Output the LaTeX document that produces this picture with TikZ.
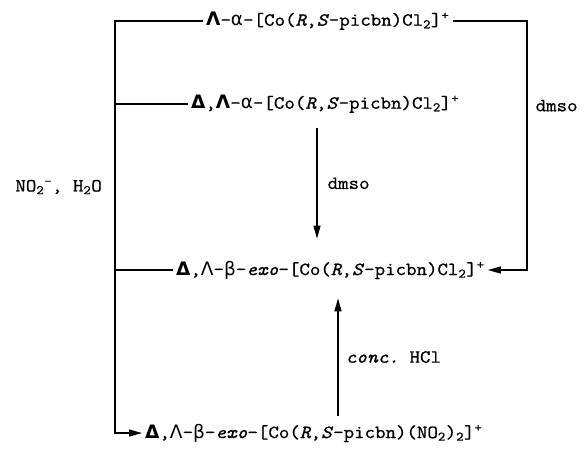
\documentclass[tikz,border=0pt]{standalone}
\usepackage{fontspec}
\setmonofont{Latin Modern Mono}[FakeStretch=1.1, FakeBold=0.9]
\newfontfamily\grk{DejaVu Sans}
\usepackage{tikz}
\usetikzlibrary{arrows.meta,positioning,calc}
\newcommand{\copicbn}{[Co(\textit{R},\textit{S}-picbn)}
\newcommand{\bLam}{{\grk\bfseries Λ}}
\newcommand{\bDel}{{\grk\bfseries Δ}}
\newcommand{\rLam}{{\grk Λ}}
\newcommand{\alp}{{\grk α}}
\newcommand{\bet}{{\grk β}}

\begin{document}
\begin{tikzpicture}[
  x=1pt,
  y=-1pt,
  cpd/.style={
    anchor=west,
    inner sep=3pt,
    font=\fontsize{18.5}{21}\selectfont\ttfamily
  },
  cond/.style={
    inner sep=2pt,
    font=\fontsize{18.5}{21}\selectfont\ttfamily
  },
  link/.style={line width=1.3pt},
  arrow/.style={-{Triangle[length=13pt,width=7pt]}, line width=1.3pt}
]
\useasboundingbox (0,0) rectangle (584,448);

% compounds
\node[cpd] (lamA) at (203,21) {\bLam-\alp-\copicbn Cl\textsubscript{2}]\textsuperscript{+}};
\node[cpd] (dlA) at (188,104) {\bDel,\bLam-\alp-\copicbn Cl\textsubscript{2}]\textsuperscript{+}};
\node[cpd] (dlB) at (173,270) {\bDel,\rLam-\bet-\textit{exo}-\copicbn Cl\textsubscript{2}]\textsuperscript{+}};
\node[cpd] (nitro) at (142,433) {\bDel,\rLam-\bet-\textit{exo}-\copicbn(NO\textsubscript{2})\textsubscript{2}]\textsuperscript{+}};

% reagent on the left
\node[cond, anchor=east] (reag) at (104,187) {NO\textsubscript{2}\textsuperscript{-}, H\textsubscript{2}O};

% corners and arrow columns
\coordinate (tl) at (115,21);
\coordinate (tr) at (527,21);
\coordinate (dn) at (317,0);
\coordinate (up) at (338,0);

\draw[arrow] (lamA.west) -- (tl) |- (nitro.west);
\draw[link] (dlA.west) -- (dlA.west -| tl);
\draw[link] (dlB.west) -- (dlB.west -| tl);
\draw[arrow] (lamA.east) -- (tr) |- node[cond, pos=0.17, right=6pt] {dmso} (dlB.east);
\draw[arrow] ($(dlA.south -| dn)+(0,12)$) -- node[cond, right=8pt] {dmso} ($(dlB.north -| dn)+(0,-19)$);
\draw[arrow] ($(nitro.north -| up)+(0,-5)$) -- node[cond, right=5pt] {\textit{conc.} HCl} ($(dlB.south -| up)+(0,16)$);
\end{tikzpicture}
\end{document}
